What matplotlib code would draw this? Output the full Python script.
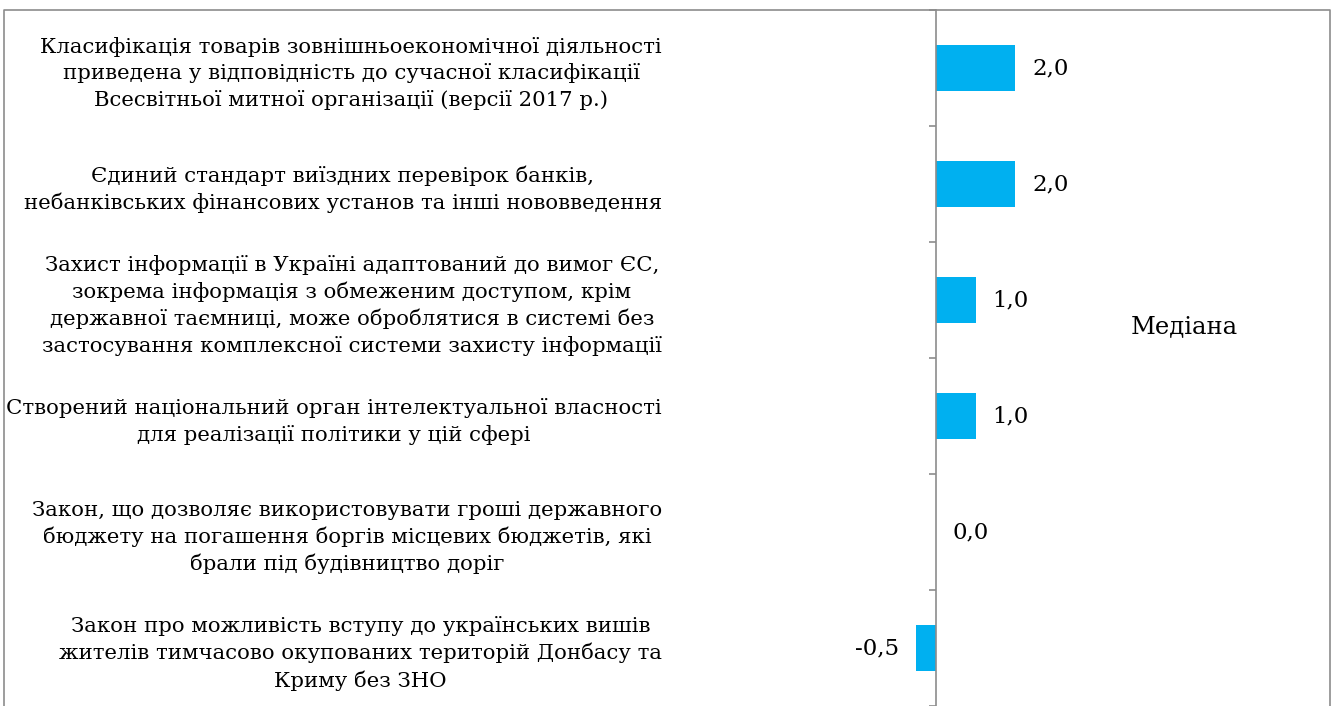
import numpy as np
import matplotlib
matplotlib.use("Agg")
import matplotlib.pyplot as plt
from matplotlib.lines import Line2D

plt.rcParams['font.family'] = ['DejaVu Serif']

# data
categories = [
    "Класифікація товарів зовнішньоекономічної діяльності\n"
    "приведена у відповідність до сучасної класифікації\n"
    "Всесвітньої митної організації (версії 2017 р.)",
    "Єдиний стандарт виїздних перевірок банків,\n"
    "небанківських фінансових установ та інші нововведення",
    "Захист інформації в Україні адаптований до вимог ЄС,\n"
    "зокрема інформація з обмеженим доступом, крім\n"
    "державної таємниці, може оброблятися в системі без\n"
    "застосування комплексної системи захисту інформації",
    "Створений національний орган інтелектуальної власності\n"
    "для реалізації політики у цій сфері",
    "Закон, що дозволяє використовувати гроші державного\n"
    "бюджету на погашення боргів місцевих бюджетів, які\n"
    "брали під будівництво доріг",
    "Закон про можливість вступу до українських вишів\n"
    "жителів тимчасово окупованих територій Донбасу та\n"
    "Криму без ЗНО",
]
median = [2.0, 2.0, 1.0, 1.0, 0.0, -0.5]
legend_label = "Медіана"

W, H = 1334, 706
fig = plt.figure(figsize=(W / 100, H / 100), dpi=100)

# plot area in pixels
ax_left, ax_right, ax_top = 670, 1110, 10
ax = fig.add_axes([ax_left / W, 0, (ax_right - ax_left) / W, (H - ax_top) / H])

zero_px = 936
ppu = 39.5  # pixels per unit
ax.set_xlim(-(zero_px - ax_left) / ppu, (ax_right - zero_px) / ppu)

y = np.arange(len(categories))
ax.barh(y, median, height=0.4, color='#00B0F0')
ax.set_ylim(len(categories) - 0.5, -0.5)

for s in ['top', 'right', 'bottom']:
    ax.spines[s].set_visible(False)
ax.spines['left'].set_position(('data', 0))
ax.spines['left'].set_color('#8c8c8c')
ax.spines['left'].set_linewidth(1.2)
ax.xaxis.set_visible(False)

ax.set_yticks(y)
ax.set_yticklabels(categories, fontsize=15.3, multialignment='center', linespacing=1.42)
ax.tick_params(axis='y', which='major', length=0, pad=(zero_px - 662) * 0.72)
ax.set_yticks(np.arange(len(categories) + 1) - 0.5, minor=True)
ax.tick_params(axis='y', which='minor', length=5, width=1.2, color='#8c8c8c', direction='out')

off = 17 / ppu
for yi, v in zip(y, median):
    txt = f"{v:.1f}".replace('.', ',')
    if v < 0:
        ax.text(v - off, yi, txt, ha='right', va='center', fontsize=16.5)
    else:
        ax.text(v + off, yi, txt, ha='left', va='center', fontsize=16.5)

fig.text(1131 / W, 1 - 327 / H, legend_label, ha='left', va='center', fontsize=17.5)

# outer frame (open at the bottom)
fx = [4 / W, 4 / W, 1330 / W, 1330 / W]
fy = [0, 1 - 10 / H, 1 - 10 / H, 0]
fig.add_artist(Line2D(fx, fy, transform=fig.transFigure, color='#8c8c8c', lw=1.2))

fig.savefig("out.png", dpi=100)
